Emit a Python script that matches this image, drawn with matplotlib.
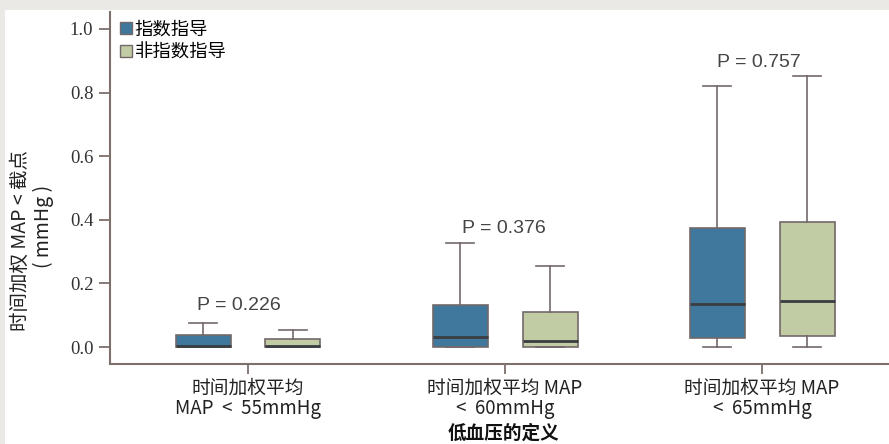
import matplotlib
matplotlib.use("Agg")
import matplotlib.pyplot as plt
from matplotlib.patches import Rectangle
from matplotlib.lines import Line2D

plt.rcParams['font.family'] = ['Noto Sans CJK SC', 'DejaVu Sans']

# Hypotension thresholds (x groups)
groups = ["时间加权平均\nMAP  <  55mmHg",
          "时间加权平均 MAP\n<  60mmHg",
          "时间加权平均 MAP\n<  65mmHg"]
series = ["指数指导", "非指数指导"]

# Box statistics per group: [whisker low, q1, median, q3, whisker high]
indexed = [
    [0.000, 0.000, 0.002, 0.038, 0.075],
    [0.000, 0.000, 0.032, 0.132, 0.326],
    [0.000, 0.030, 0.137, 0.373, 0.819],
]
non_indexed = [
    [0.000, 0.000, 0.002, 0.027, 0.054],
    [0.000, 0.000, 0.019, 0.109, 0.256],
    [0.000, 0.035, 0.145, 0.394, 0.852],
]
p_values = ["0.226", "0.376", "0.757"]
p_label_y = [0.130, 0.374, 0.893]

colors = ["#3f789c", "#c1cca5"]
edge = "#73686a"
axis_col = "#7d706c"
frame_col = "#ebe9e5"

W, H = 889, 444
fig = plt.figure(figsize=(W / 100, H / 100), dpi=100, facecolor="white")
# grey frame along the top and left edges
fig.patches.append(Rectangle((0, (H - 10) / H), 1, 10 / H, transform=fig.transFigure,
                             facecolor=frame_col, edgecolor="none"))
fig.patches.append(Rectangle((0, 0), 5 / W, 1, transform=fig.transFigure,
                             facecolor=frame_col, edgecolor="none"))

ax = fig.add_axes([110 / W, (H - 364) / H, (W - 110) / W, (364 - 12) / H])
ax.set_facecolor("none")


def to_stats(rows):
    return [dict(whislo=r[0], q1=r[1], med=r[2], q3=r[3], whishi=r[4], fliers=[]) for r in rows]


offset = 0.175
width = 0.214
for k, (data, col) in enumerate(zip([indexed, non_indexed], colors)):
    pos = [i + (-offset if k == 0 else offset) for i in range(len(groups))]
    ax.bxp(to_stats(data), positions=pos, widths=width, patch_artist=True,
           showfliers=False,
           boxprops=dict(facecolor=col, edgecolor=edge, linewidth=1.2),
           medianprops=dict(color="#3a3c40", linewidth=2),
           whiskerprops=dict(color=edge, linewidth=1.2),
           capprops=dict(color=edge, linewidth=1.2),
           capwidths=width / 2)

# p-value labels sit a little left of each group centre
p_shift = [-0.037, -0.006, -0.014]
for i, (p, y) in enumerate(zip(p_values, p_label_y)):
    ax.text(i + p_shift[i], y, f"P = {p}", ha="center", va="center", fontsize=14,
            color="#454545", family=["Liberation Sans", "DejaVu Sans"])

ax.set_xlim(-0.537, 2.494)
ax.set_ylim(-0.053, 1.053)
ax.set_xticks(range(len(groups)))
ax.set_xticklabels(groups, fontsize=13.5, color="#222222", linespacing=0.95)
ax.set_yticks([0.0, 0.2, 0.4, 0.6, 0.8, 1.0])
ax.set_yticklabels([f"{v:.1f}" for v in [0.0, 0.2, 0.4, 0.6, 0.8, 1.0]],
                   family="Liberation Serif", fontsize=13.5, color="#333333")
ax.tick_params(axis="y", length=8, width=1.3, color=axis_col, pad=4)
ax.tick_params(axis="x", length=7, width=1.3, color=axis_col, pad=3)
for s in ["top", "right"]:
    ax.spines[s].set_visible(False)
for s in ["left", "bottom"]:
    ax.spines[s].set_color(axis_col)
    ax.spines[s].set_linewidth(1.5)

fig.text(503 / W, 1 - 433 / H, "低血压的定义", ha="center", va="center",
         fontsize=13.4, fontweight="bold", color="#111111")
fig.text(20 / W, 1 - 240 / H, "时间加权 MAP < 截点", rotation=90, ha="center",
         va="center", fontsize=14, color="#222222")
fig.text(43 / W, 1 - 226 / H, "( mmHg )", rotation=90, ha="center",
         va="center", fontsize=14, color="#222222")

handles = [Line2D([], [], marker="s", linestyle="none", markersize=8,
                  markerfacecolor=c, markeredgecolor=edge, markeredgewidth=1)
           for c in colors]
ax.legend(handles, series, loc="upper left", bbox_to_anchor=(0.0, 1.0),
          frameon=False, fontsize=13.2, handletextpad=0.1, handlelength=0.8,
          borderaxespad=0.25, labelspacing=0.3, borderpad=0.2)

fig.savefig("out.png", dpi=100, facecolor=fig.get_facecolor())
